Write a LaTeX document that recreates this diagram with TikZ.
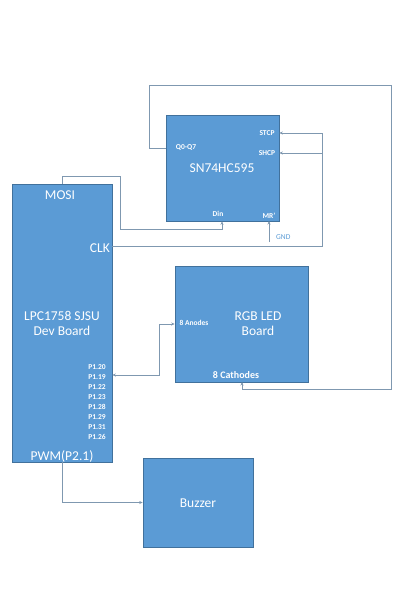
\documentclass[tikz,border=0pt]{standalone}
\usepackage{fontspec}
\setmainfont{Carlito}
\usetikzlibrary{calc,positioning,arrows.meta}

\definecolor{boxblue}{HTML}{5B9BD5}
\definecolor{boxedge}{HTML}{41719C}
\definecolor{wirecol}{HTML}{7F98B0}

\begin{document}
\begin{tikzpicture}[
    x=1pt,y=-1pt,
    block/.style={rectangle,draw=boxedge,line width=0.6pt,fill=boxblue,inner sep=0pt},
    title/.style={text=white,font=\fontsize{13.5}{15}\selectfont,inner sep=0pt},
    pin/.style={text=white,font=\bfseries\fontsize{7.5}{9}\selectfont,inner sep=0pt},
    wire/.style={draw=wirecol,line width=0.7pt},
    tip/.style={-{Stealth[length=3.5pt,width=3pt]}}
    ]
    \useasboundingbox (0,0) rectangle (413,600);

    % shift register
    \node(chip) [block,minimum width=113pt,minimum height=106pt] at (222.5,168) {};
    \node(chip_title) [title] at (222,168) {SN74HC595};
    \node(chip_q) [pin] at (186,148) {Q0-Q7};
    \node(chip_stcp) [pin] at (267,133) {STCP};
    \node(chip_shcp) [pin] at (267,153) {SHCP};
    \node(chip_din) [pin] at (218,214) {Din};
    \node(chip_mr) [pin] at (269,216) {MR'};
    \node(gnd) [text=boxblue,font=\fontsize{7.5}{9}\selectfont,inner sep=0pt,anchor=west] at (276,237) {GND};

    % dev board
    \node(lpc) [block,minimum width=100pt,minimum height=278pt] at (62,323) {};
    \node(lpc_title) [title] at (62,325) {
      \begin{tabular}{@{}c@{}}
        LPC1758 SJSU\\
        Dev Board\\
      \end{tabular}
    };
    \node(lpc_mosi) [title] at (60,195) {MOSI};
    \node(lpc_clk) [title,anchor=east] at (110,248) {CLK};
    \node(lpc_pwm) [title] at (62,456) {PWM(P2.1)};
    \foreach \p [count=\i from 0] in {20,19,22,23,28,29,31,26}
      \node(lpc_p\i) [pin] at (97,367+10*\i) {P1.\p};

    % led matrix
    \node(rgb) [block,minimum width=133pt,minimum height=116pt] at (241.5,324) {};
    \node(rgb_title) [title] at (258,325) {
      \begin{tabular}{@{}c@{}}
        RGB LED\\
        Board\\
      \end{tabular}
    };
    \node(rgb_an) [pin,font=\bfseries\fontsize{7.5}{9}\selectfont] at (194,323) {8 Anodes};
    \node(rgb_cath) [pin,font=\bfseries\fontsize{10}{12}\selectfont] at (236,375) {8 Cathodes};

    % buzzer
    \node(buzzer) [block,minimum width=110pt,minimum height=89pt] at (198,502.5) {};
    \node(buzzer_title) [title] at (198,503) {Buzzer};

    % bends
    \coordinate(clk_bus) at (322,246);
    \coordinate(loop_left) at (149,85);
    \coordinate(loop_right) at (391,389);
    \coordinate(mosi_bend) at (120,176);
    \coordinate(din_bend) at (222,229);
    \coordinate(an_bend) at (159,324);

    % connectors
    \draw[wire,tip] (chip.west |- chip_q) -| (loop_left) -| (loop_right) -| (242,382);
    \draw[wire,tip] (lpc.east |- clk_bus) -| (clk_bus |- chip_stcp) -- (chip.east |- chip_stcp);
    \draw[wire,tip] (clk_bus |- chip_shcp) -- (chip.east |- chip_shcp);
    \draw[wire,tip] (lpc.north) |- (mosi_bend) |- (din_bend) -- (din_bend |- chip.south);
    \draw[wire,tip] (269,242) -- (269,221);
    \draw[wire,{Stealth[length=3.5pt,width=3pt]}-{Stealth[length=3.5pt,width=3pt]}]
      (lpc.east |- 0,375) -| (an_bend) -- (rgb.west |- an_bend);
    \draw[wire,tip] (lpc.south) |- (buzzer.west);

  \end{tikzpicture}
\end{document}
